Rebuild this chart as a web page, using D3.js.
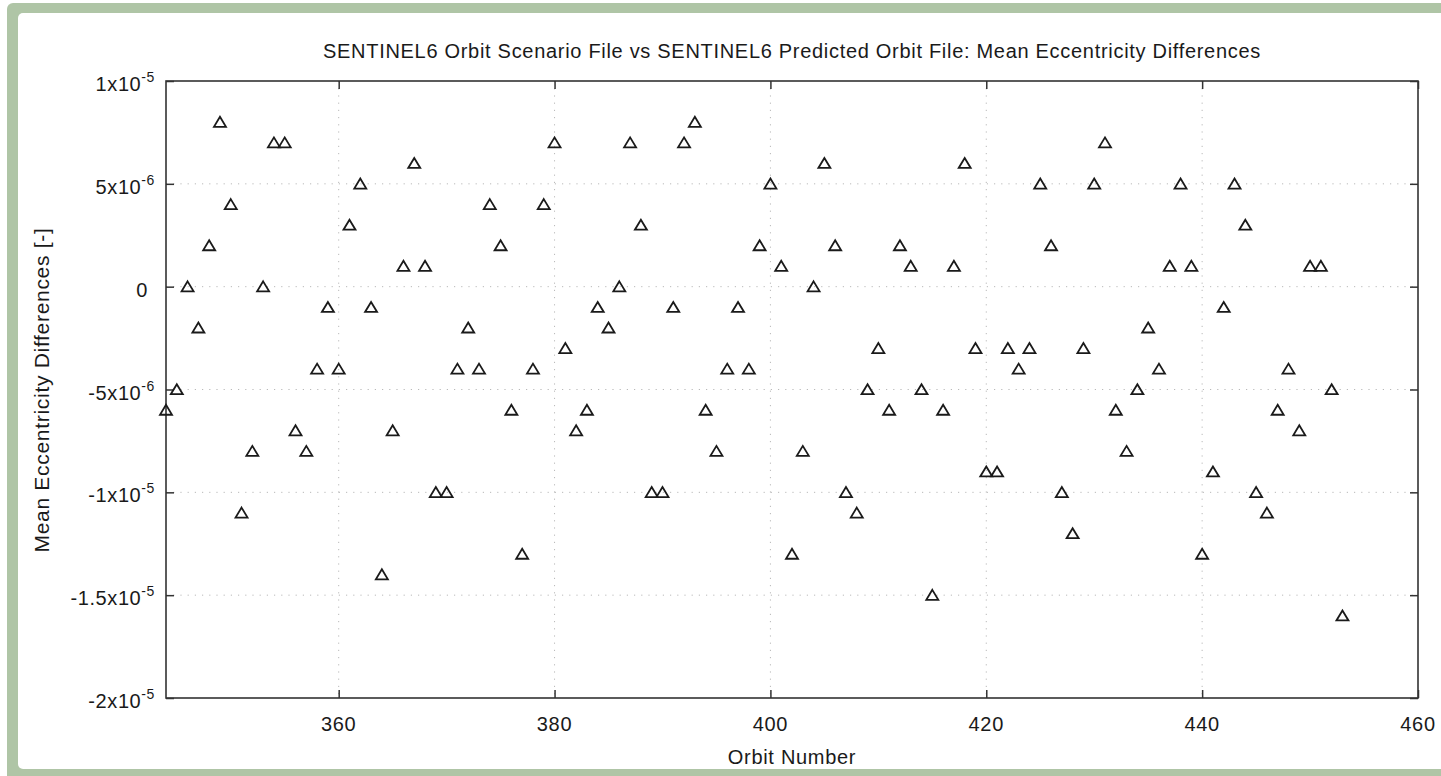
<!DOCTYPE html>
<html>
<head>
<meta charset="utf-8">
<script src="https://cdn.jsdelivr.net/npm/d3@7"></script>
<style>
  html, body { margin: 0; padding: 0; background: #ffffff; }
  svg { display: block; }
  text { font-family: "Liberation Sans", Arial, Helvetica, sans-serif; fill: #1a1a1a; }
</style>
</head>
<body>
<svg id="chart" width="1441" height="776"></svg>
<script>
// ---- data ----
const orbits = [
  344,345,346,347,348,349,350,351,352,353,
  354,355,356,357,358,359,360,361,362,363,
  364,365,366,367,368,369,370,371,372,373,
  374,375,376,377,378,379,380,381,382,383,
  384,385,386,387,388,389,390,391,392,393,
  394,395,396,397,398,399,400,401,402,403,
  404,405,406,407,408,409,410,411,412,413,
  414,415,416,417,418,419,420,421,422,423,
  424,425,426,427,428,429,430,431,432,433,
  434,435,436,437,438,439,440,441,442,443,
  444,445,446,447,448,449,450,451,452,453
];
const eccDiff = [
  -6e-6,-5e-6,0,-2e-6,2e-6,8e-6,4e-6,-11e-6,-8e-6,0,
  7e-6,7e-6,-7e-6,-8e-6,-4e-6,-1e-6,-4e-6,3e-6,5e-6,-1e-6,
  -14e-6,-7e-6,1e-6,6e-6,1e-6,-10e-6,-10e-6,-4e-6,-2e-6,-4e-6,
  4e-6,2e-6,-6e-6,-13e-6,-4e-6,4e-6,7e-6,-3e-6,-7e-6,-6e-6,
  -1e-6,-2e-6,0,7e-6,3e-6,-10e-6,-10e-6,-1e-6,7e-6,8e-6,
  -6e-6,-8e-6,-4e-6,-1e-6,-4e-6,2e-6,5e-6,1e-6,-13e-6,-8e-6,
  0,6e-6,2e-6,-10e-6,-11e-6,-5e-6,-3e-6,-6e-6,2e-6,1e-6,
  -5e-6,-15e-6,-6e-6,1e-6,6e-6,-3e-6,-9e-6,-9e-6,-3e-6,-4e-6,
  -3e-6,5e-6,2e-6,-10e-6,-12e-6,-3e-6,5e-6,7e-6,-6e-6,-8e-6,
  -5e-6,-2e-6,-4e-6,1e-6,5e-6,1e-6,-13e-6,-9e-6,-1e-6,5e-6,
  3e-6,-10e-6,-11e-6,-6e-6,-4e-6,-7e-6,1e-6,1e-6,-5e-6,-16e-6
];
const xDomain = [344, 460];
const yDomain = [-2e-5, 1e-5];
const xTicks = [360, 380, 400, 420, 440, 460];
const yTicks = [1e-5, 5e-6, 0, -5e-6, -1e-5, -1.5e-5, -2e-5];
const yTickMantissa = ["1", "5", "0", "-5", "-1", "-1.5", "-2"];
const yTickExponent = ["-5", "-6", "", "-6", "-5", "-5", "-5"];
const titleText = "SENTINEL6 Orbit Scenario File vs SENTINEL6 Predicted Orbit File: Mean Eccentricity Differences";
const xLabel = "Orbit Number";
const yLabel = "Mean Eccentricity Differences [-]";

// ---- layout ----
const W = 1441, H = 776;
const plot = { left: 166, right: 1418, top: 81, bottom: 698 };

const svg = d3.select("#chart");

// frame background (green border)
svg.append("rect").attr("x", 7).attr("y", 3).attr("width", W + 20).attr("height", H + 20)
  .attr("rx", 6).attr("fill", "#afc5a6");
svg.append("rect").attr("x", 18).attr("y", 13).attr("width", W + 10).attr("height", 769 - 13)
  .attr("rx", 5).attr("fill", "#ffffff");

const x = d3.scaleLinear().domain(xDomain).range([plot.left, plot.right]);
const y = d3.scaleLinear().domain(yDomain).range([plot.bottom, plot.top]);

// grid
const grid = svg.append("g").attr("stroke", "#b9b9b9").attr("stroke-width", 1)
  .attr("stroke-dasharray", "1.2,6");
grid.selectAll("line.gx").data(xTicks.filter(v => v > xDomain[0] && v < xDomain[1]))
  .join("line").attr("class", "gx")
  .attr("x1", d => x(d)).attr("x2", d => x(d))
  .attr("y1", plot.top).attr("y2", plot.bottom);
grid.selectAll("line.gy").data(yTicks.filter(v => v > yDomain[0] && v < yDomain[1]))
  .join("line").attr("class", "gy")
  .attr("y1", d => y(d)).attr("y2", d => y(d))
  .attr("x1", plot.left).attr("x2", plot.right);

// axes (inward ticks on all four sides)
const tickLen = 8;
function styleAxis(g) {
  g.select(".domain").remove();
  g.selectAll(".tick line").attr("stroke", "#333").attr("stroke-width", 1.5);
  g.selectAll(".tick text").remove();
}
svg.append("g").attr("transform", `translate(0,${plot.bottom})`)
  .call(d3.axisBottom(x).tickValues(xTicks).tickSizeInner(-tickLen).tickSizeOuter(0))
  .call(styleAxis);
svg.append("g").attr("transform", `translate(0,${plot.top})`)
  .call(d3.axisTop(x).tickValues(xTicks).tickSizeInner(-tickLen).tickSizeOuter(0))
  .call(styleAxis);
svg.append("g").attr("transform", `translate(${plot.left},0)`)
  .call(d3.axisLeft(y).tickValues(yTicks).tickSizeInner(-tickLen).tickSizeOuter(0))
  .call(styleAxis);
svg.append("g").attr("transform", `translate(${plot.right},0)`)
  .call(d3.axisRight(y).tickValues(yTicks).tickSizeInner(-tickLen).tickSizeOuter(0))
  .call(styleAxis);

// frame
svg.append("rect")
  .attr("x", plot.left).attr("y", plot.top)
  .attr("width", plot.right - plot.left).attr("height", plot.bottom - plot.top)
  .attr("fill", "none").attr("stroke", "#333").attr("stroke-width", 1.6);

// x tick labels
svg.append("g").selectAll("text").data(xTicks).join("text")
  .attr("x", d => x(d)).attr("y", plot.bottom + 33)
  .attr("text-anchor", "middle")
  .style("font-size", "20px").style("letter-spacing", "0.7px")
  .text(d => d);

// y tick labels with superscript exponents
const yl = svg.append("g").selectAll("text").data(yTicks).join("text")
  .attr("x", 155).attr("y", d => y(d) + 10)
  .attr("text-anchor", "end")
  .style("font-size", "20px").style("letter-spacing", "0.6px");
yl.each(function(d, i) {
  const t = d3.select(this);
  if (yTickExponent[i] === "") {
    t.attr("x", 148).text(yTickMantissa[i]);
  } else {
    t.append("tspan").text(yTickMantissa[i] + "x10");
    t.append("tspan").attr("dy", -9).style("font-size", "14px").text(yTickExponent[i]);
  }
});

// data markers: open triangles
const tri = "M0,-5.3L6,4.7L-6,4.7Z";
svg.append("g").selectAll("path").data(orbits).join("path")
  .attr("transform", (d, i) => `translate(${x(d)},${y(eccDiff[i])})`)
  .attr("d", tri)
  .attr("fill", "none").attr("stroke", "#1a1a1a").attr("stroke-width", 1.8)
  .attr("stroke-linejoin", "miter");

// title & axis labels
svg.append("text").attr("x", (plot.left + plot.right) / 2).attr("y", 58)
  .attr("text-anchor", "middle")
  .style("font-size", "20px").style("letter-spacing", "0.7px")
  .text(titleText);
svg.append("text").attr("x", (plot.left + plot.right) / 2).attr("y", 764)
  .attr("text-anchor", "middle")
  .style("font-size", "20px").style("letter-spacing", "0.7px")
  .text(xLabel);
svg.append("text")
  .attr("transform", `translate(49,390) rotate(-90)`)
  .attr("text-anchor", "middle")
  .style("font-size", "21px").style("letter-spacing", "0.7px")
  .text(yLabel);
</script>
</body>
</html>
